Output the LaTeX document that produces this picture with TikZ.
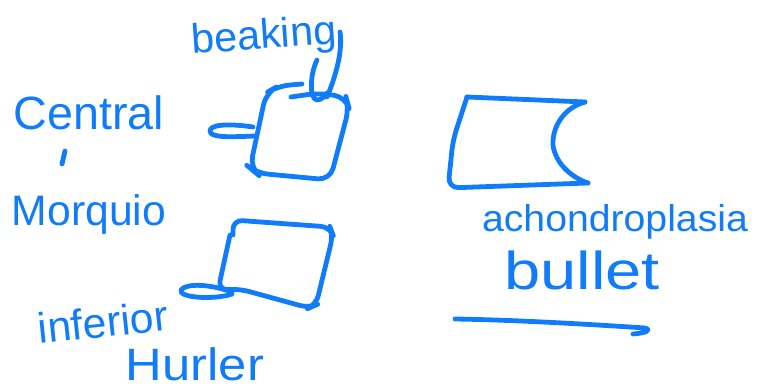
\documentclass[tikz,border=0pt]{standalone}
\usepackage{fontspec}
\setmainfont{Liberation Sans}
\definecolor{ink}{RGB}{16,124,250}
\newcommand{\fs}[1]{\fontsize{#1}{#1}\selectfont}
\begin{document}
\begin{tikzpicture}[x=0.75pt,y=-0.75pt,
  pen/.style={draw=ink,line width=3.6pt,line cap=round,line join=round},
  lbl/.style={text=ink,inner sep=0pt}]
\useasboundingbox (0,0) rectangle (758,389);
% labels
\node[lbl,font=\fs{31},rotate=4] (beak) at (264,38) {beaking};
\node[lbl,font=\fs{35}] (cen) at (89,113) {Central};
\node[lbl,font=\fs{32}] (mor) at (89,214) {Morquio};
\node[lbl,font=\fs{32},rotate=6] (inf) at (103,322) {inferior};
\node[lbl,font=\fs{34}] (hur) at (195,364) {\scalebox{1.12}[1]{Hurler}};
\node[lbl,font=\fs{28}] (ach) at (615,222) {\scalebox{1.05}[1]{achondroplasia}};
\node[lbl,font=\fs{40}] (bul) at (582,270) {\scalebox{1.22}[1]{bullet}};
% stray mark between Central and Morquio
\draw[pen] (65,151) -- (62,164);
% box 1 : central beaking
\draw[pen,rounded corners=9] (302,84) -- (278,86) -- (266,93) -- (250,168) -- (256,173) -- (330,180) -- (349,108) -- (346,97) -- (318,93) -- (291,97);
\draw[pen] (253,127) .. controls (226,123) and (210,125) .. (210,131) .. controls (210,138) and (230,137) .. (255,136);
\draw[pen] (340,32) .. controls (343,52) and (335,78) .. (327,97);
\draw[pen] (317,60) .. controls (310,74) and (309,99) .. (317,100) .. controls (321,100) and (324,97) .. (327,93);
% box 2 : inferior beaking (Hurler)
\draw[pen,rounded corners=7] (233,235) -- (233,220) -- (330,227) -- (333,235) -- (316,305) -- (309,308) -- (240,289) -- (218,290) -- (230,235);
\draw[pen] (232,292) .. controls (210,284) and (186,283) .. (181,290) .. controls (178,298) and (215,300) .. (232,294);
% box 3 : achondroplasia bullet
\draw[pen,rounded corners=7] (467,97) -- (585,102);
\draw[pen] (585,102) .. controls (563,108) and (552,128) .. (553,145) .. controls (555,162) and (570,177) .. (588,183);
\draw[pen,rounded corners=8] (588,183) -- (448,188) -- (453,140) -- (467,97);
% arrow line
\draw[pen] (455,319) .. controls (520,320) and (600,325) .. (645,328) .. controls (652,330) and (646,333) .. (633,334);
\end{tikzpicture}
\end{document}
